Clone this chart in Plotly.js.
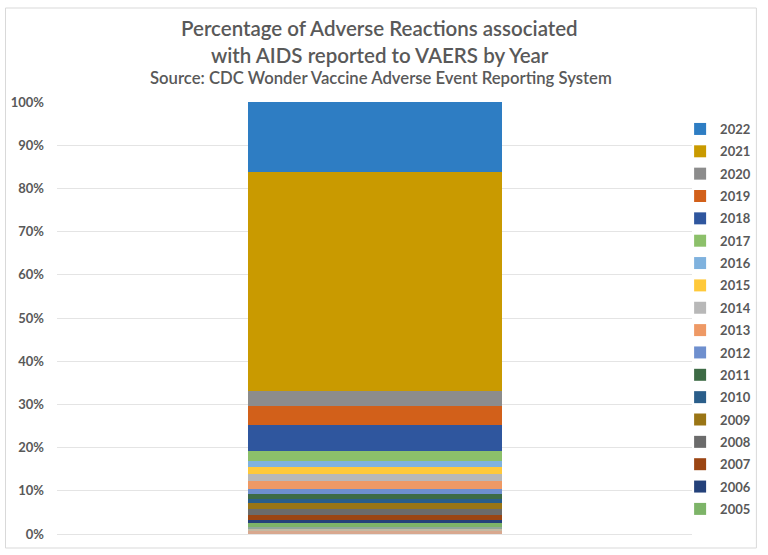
<!DOCTYPE html>
<html>
<head>
<meta charset="utf-8">
<script src="https://cdn.plot.ly/plotly-3.0.1.min.js"></script>
<style>
  body { margin: 0; background: #fff; }
  #chart { width: 768px; height: 555px; }
</style>
</head>
<body>
<div id="chart"></div>
<script>
// one category, one stacked segment per year (share of all AIDS reports, %)
const category = [''];
const years = ['2002', '2003', '2004', '2005', '2006', '2007', '2008', '2009', '2010', '2011',
               '2012', '2013', '2014', '2015', '2016', '2017', '2018', '2019', '2020', '2021', '2022'];
const shares = [0.6, 0.6, 0.5, 0.9, 0.6, 1.3, 1.4, 1.2, 1.1, 1.0,
                1.2, 1.9, 1.6, 1.5, 1.5, 2.3, 6.1, 4.4, 3.3, 50.8, 16.2];
const colors = ['#D8A88F', '#C4B9A2', '#8FA89A', '#7DB468', '#24417A', '#9B4513', '#6B6B6B', '#9A7515', '#2A5E8A', '#3D6B45',
                '#6E8FCE', '#EE9965', '#B8B8B8', '#FFC93A', '#7FB2DE', '#8CC06A', '#2F569E', '#D2601A', '#8C8C8C', '#C99A00', '#2E7DC3'];
// years before 2005 don't fit in the legend of the original
const firstInLegend = 2005;

const grey = '#595959';
const font = 'Lato, "Open Sans", sans-serif';

/**
 * Builds one stacked bar trace for a year.
 * @param  {number} i index into the year arrays
 * @return {object}   plotly trace
 */
function yearTrace(i){
  return {
    x: category,
    y: [shares[i]],
    name: years[i],
    type: 'bar',
    width: 0.4,
    marker: {color: colors[i]},
    showlegend: Number(years[i]) >= firstInLegend,
    legendgroup: years[i],
    legendrank: 3000 - Number(years[i]),   // newest year on top
    hoverinfo: 'name+y'
  };
}

const data = years.map(function(y, i){ return yearTrace(i); });

// paper coords from pixel positions: plot area is x 57..698, y 102..534
const px = function(v){ return (v - 57) / 641; };
const py = function(v){ return (534 - v) / 432; };

const layout = {
  width: 768,
  height: 555,
  margin: {l: 57, r: 70, t: 102, b: 21},
  barmode: 'stack',
  paper_bgcolor: '#fff',
  plot_bgcolor: '#fff',
  font: {family: font, color: grey, size: 13},
  showlegend: true,
  legend: {
    x: px(686), xanchor: 'left',
    y: py(114), yanchor: 'top',
    traceorder: 'grouped',
    tracegroupgap: 2.45,
    font: {family: font, size: 13, color: grey, weight: 'bold'},
    bgcolor: 'rgba(0,0,0,0)'
  },
  xaxis: {
    range: [-0.5, 0.5],
    showticklabels: false,
    showgrid: false,
    zeroline: false,
    showline: false,
    fixedrange: true
  },
  yaxis: {
    range: [0, 100],
    dtick: 10,
    ticksuffix: '%',
    showgrid: true,
    gridcolor: '#E4E4E4',
    gridwidth: 1,
    zeroline: true,
    zerolinecolor: '#E4E4E4',
    showline: false,
    ticks: '',
    ticklabelstandoff: 12,
    tickfont: {family: font, size: 13, color: grey, weight: 'bold'},
    fixedrange: true
  },
  annotations: [
    {text: 'Percentage of Adverse Reactions associated', xref: 'paper', yref: 'paper',
     x: px(383), y: py(28), xanchor: 'center', yanchor: 'middle', showarrow: false,
     font: {family: font, size: 20.5, color: grey, weight: 600}},
    {text: 'with AIDS reported to VAERS by Year', xref: 'paper', yref: 'paper',
     x: px(383), y: py(55), xanchor: 'center', yanchor: 'middle', showarrow: false,
     font: {family: font, size: 20.5, color: grey, weight: 600}},
    {text: 'Source: CDC Wonder Vaccine Adverse Event Reporting System', xref: 'paper', yref: 'paper',
     x: px(384), y: py(78), xanchor: 'center', yanchor: 'middle', showarrow: false,
     font: {family: font, size: 16.7, color: grey, weight: 600}}
  ],
  shapes: [
    {type: 'rect', xref: 'paper', yref: 'paper', layer: 'below',
     x0: px(5), x1: px(763), y0: py(548), y1: py(8),
     line: {color: '#D9D9D9', width: 1}}
  ]
};

Plotly.newPlot('chart', data, layout, {displayModeBar: false, staticPlot: true});
</script>
</body>
</html>
